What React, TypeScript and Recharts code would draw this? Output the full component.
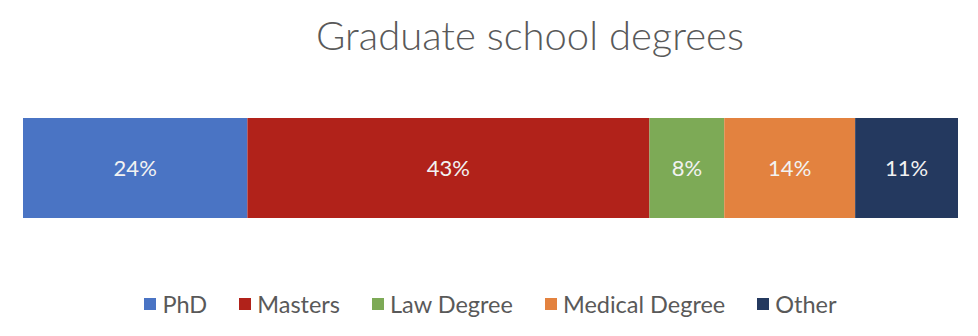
import { BarChart, Bar, XAxis, YAxis, Legend, LabelList } from "recharts";

const categories = ["PhD", "Masters", "Law Degree", "Medical Degree", "Other"];
const shares = [24, 43, 8, 14, 11];
const colors = ["#4A74C4", "#B1221A", "#7DAA56", "#E3823F", "#24395F"];

const FONT = "Lato, 'Open Sans', sans-serif";

const row: Record<string, string | number> = { name: "Graduate school degrees" };
categories.forEach((c, i) => {
  row[c] = shares[i];
});
const data = [row];

function LegendRow() {
  return (
    <div style={{ display: "flex", justifyContent: "center", gap: 32, fontFamily: FONT, fontSize: 23.5, color: "#595959" }}>
      {categories.map((c, i) => (
        <div key={c} style={{ display: "flex", alignItems: "center", gap: 6 }}>
          <span style={{ width: 12, height: 12, background: colors[i], display: "inline-block" }} />
          <span>{c}</span>
        </div>
      ))}
    </div>
  );
}

export default function App() {
  return (
    <div style={{ position: "absolute", left: 0, top: 0, width: 978, height: 336, background: "#fff" }}>
      <div
        style={{
          position: "absolute",
          top: 11,
          left: 80,
          width: 900,
          textAlign: "center",
          fontFamily: FONT,
          fontSize: 40,
          fontWeight: 300,
          color: "#595959",
        }}
      >
        Graduate school degrees
      </div>
      <BarChart width={978} height={336} data={data} layout="vertical" margin={{ top: 46, right: 20, bottom: 14, left: 23 }}>
        <XAxis type="number" domain={[0, 100]} hide />
        <YAxis type="category" dataKey="name" hide />
        <Legend verticalAlign="bottom" height={32} content={() => <LegendRow />} />
        {categories.map((c, i) => (
          <Bar key={c} dataKey={c} stackId="a" fill={colors[i]} barSize={100} isAnimationActive={false}>
            <LabelList
              dataKey={c}
              position="center"
              formatter={(v: any) => `${v}%`}
              fill="#F2F2F2"
              style={{ fontFamily: FONT, fontSize: 22 }}
            />
          </Bar>
        ))}
      </BarChart>
    </div>
  );
}
